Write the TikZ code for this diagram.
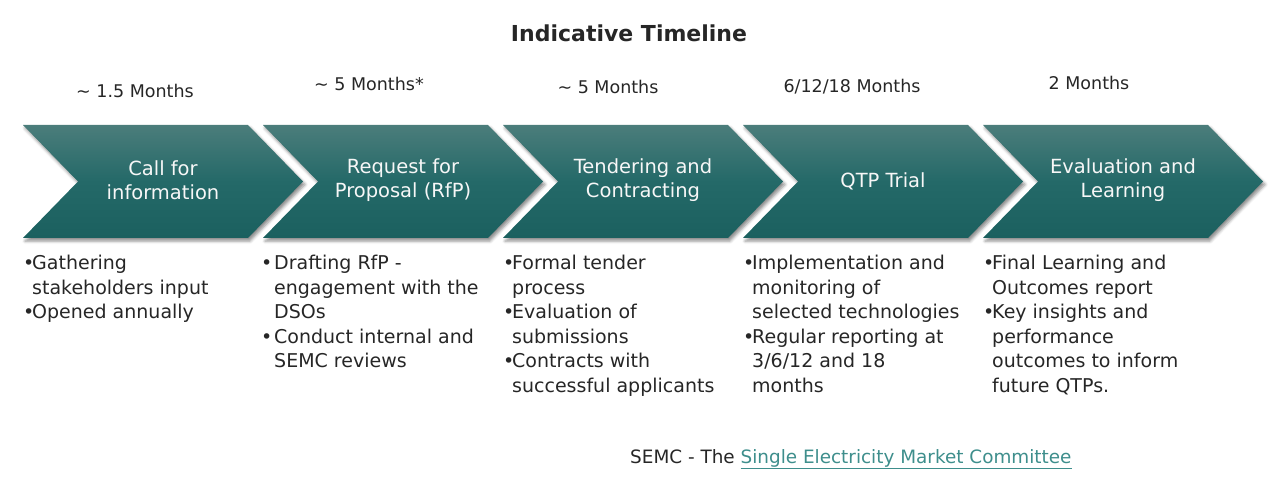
\documentclass[tikz,border=0pt]{standalone}
\usepackage{fontspec}
\setmainfont{DejaVu Sans}
\usetikzlibrary{shadows.blur}
\definecolor{tealtop}{HTML}{4B7D7B}
\definecolor{tealmid}{HTML}{246968}
\definecolor{tealbot}{HTML}{1B605F}
\definecolor{bodytext}{HTML}{262626}
\definecolor{linkteal}{HTML}{3E8E8C}
\newlength\bw
\setlength\bw{9pt}
\tikzset{
  chev/.style={top color=tealtop, bottom color=tealbot, middle color=tealmid, draw=none,
    blur shadow={shadow xshift=2pt, shadow yshift=-3pt, shadow blur radius=3pt, shadow opacity=45}},
  chevtext/.style={text=white!94!gray, font=\fontsize{19.5}{24}\selectfont, align=center, inner sep=0pt},
  monthlbl/.style={text=bodytext, font=\fontsize{17.5}{20}\selectfont, inner sep=0pt},
  bullets/.style={text=bodytext, font=\fontsize{19}{24.5}\selectfont, align=left, inner sep=0pt, anchor=north west},
  widebullet/.style={execute at begin node={\setlength\bw{13pt}}},
}
\newcommand{\bl}{\makebox[\bw][l]{\textbullet}}
\newcommand{\ind}{\hspace*{\bw}}
\begin{document}
\begin{tikzpicture}[x=1pt,y=-1pt]
\useasboundingbox (0,0) rectangle (1277,486);
\node[text=bodytext, font=\bfseries\fontsize{22}{26}\selectfont, inner sep=0pt] (title) at (629,33) {Indicative Timeline};
\foreach \i in {0,...,4}{
  \pgfmathsetmacro{\xo}{23+240*\i}
  \path[chev] (\xo,125) -- (\xo+225,125) -- (\xo+280,181.5) -- (\xo+225,238) -- (\xo,238) -- (\xo+55,181.5) -- cycle;
}
\node[chevtext] (c1) at (163,180) {Call for\\information};
\node[chevtext] (c2) at (403,180) {Request for\\Proposal (RfP)};
\node[chevtext] (c3) at (643,180) {Tendering and\\Contracting};
\node[chevtext] (c4) at (883,181) {QTP Trial};
\node[chevtext] (c5) at (1123,180) {Evaluation and\\Learning};
\node[monthlbl] (m1) at (135,91) {\textasciitilde\ 1.5 Months};
\node[monthlbl] (m2) at (369,84) {\textasciitilde\ 5 Months*};
\node[monthlbl] (m3) at (608,87) {\textasciitilde\ 5 Months};
\node[monthlbl] (m4) at (852,87) {6/12/18 Months};
\node[monthlbl] (m5) at (1089,83) {2 Months};
\node[bullets] (b1) at (23,255) {\bl Gathering\\\ind stakeholders input\\\bl Opened annually};
\node[bullets, widebullet] (b2) at (261,255) {\bl Drafting RfP -\\\ind engagement with the\\\ind DSOs\\\bl Conduct internal and\\\ind SEMC reviews};
\node[bullets] (b3) at (503,255) {\bl Formal tender\\\ind process\\\bl Evaluation of\\\ind submissions\\\bl Contracts with\\\ind successful applicants};
\node[bullets] (b4) at (743,255) {\bl Implementation and\\\ind monitoring of\\\ind selected technologies\\\bl Regular reporting at\\\ind 3/6/12 and 18\\\ind months};
\node[bullets] (b5) at (983,255) {\bl Final Learning and\\\ind Outcomes report\\\bl Key insights and\\\ind performance\\\ind outcomes to inform\\\ind future QTPs.};
\node[text=bodytext, font=\fontsize{18.4}{20}\selectfont, inner sep=0pt, anchor=base west] (foot) at (630,463) {SEMC - The {\color{linkteal}\underline{Single Electricity Market Committee}}};
\end{tikzpicture}
\end{document}
